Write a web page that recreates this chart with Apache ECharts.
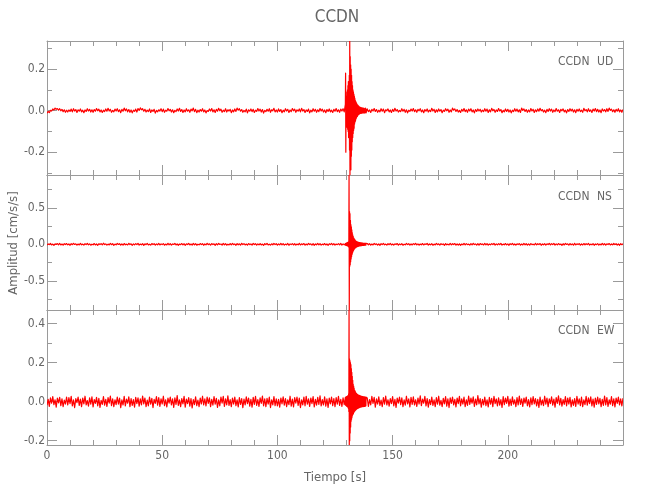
<!DOCTYPE html>
<html><head><meta charset="utf-8">
<script src="https://cdn.jsdelivr.net/npm/echarts@6/dist/echarts.min.js"></script>
<style>html,body{margin:0;padding:0;background:#fff}#c{width:650px;height:500px}</style>
</head><body><div id="c"></div>
<script>
// ---------------- data ----------------
const stationName = 'CCDN';
const components = ['UD', 'NS', 'EW'];
const xTitle = 'Tiempo [s]';
const yTitle = 'Amplitud [cm/s/s]';

// sampling of the three pieces of each trace (seconds)
const preStart = 0, preStep = 0.5;
const evStart = 129.5, evStep = 0.1;
const postStart = 139, postStep = 0.5;

const udPre = [
-.013,-.004,-.010,.001,-.002,.008,.003,.012,.006,.010,.002,.009,-.001,.006,-.005,.004,-.008,.002,-.007,.003,
-.004,.007,-.006,.009,-.002,.005,-.009,.004,-.003,.008,-.006,.002,-.010,.003,-.004,.009,-.002,.006,-.007,.004,
-.008,.005,-.003,.010,-.001,.007,-.006,.003,-.009,.002,-.005,.008,-.003,.011,-.002,.006,-.008,.001,-.006,.007,
-.002,.009,-.005,.004,-.010,.006,-.003,.012,-.001,.008,-.006,.005,-.008,.003,-.011,.002,-.004,.007,-.007,.010,
.001,.013,.004,.009,-.003,.006,-.007,.002,-.005,.008,-.009,.003,-.004,.006,-.012,.001,-.006,.004,-.002,.009,
-.005,.007,-.008,.002,-.003,.010,-.001,.006,-.007,.004,-.010,.001,-.005,.008,-.002,.011,-.004,.005,-.009,.003,
-.006,.009,-.003,.004,-.008,.007,-.001,.012,-.005,.006,-.010,.002,-.007,.005,-.003,.009,-.006,.003,-.011,.000,
-.004,.008,-.002,.010,-.006,.004,-.009,.006,-.003,.011,-.001,.007,-.008,.002,-.005,.009,-.007,.004,-.002,.006,
-.010,.003,-.006,.008,-.004,.012,.002,.009,-.003,.005,-.008,.001,-.006,.007,-.011,.004,-.003,.008,-.005,.006,
-.009,.002,-.004,.010,-.002,.007,-.007,.005,-.012,.001,-.005,.006,-.003,.009,-.008,.004,-.001,.011,-.006,.003,
-.007,.008,-.004,.005,-.010,.002,-.006,.009,-.002,.006,-.009,.003,-.005,.010,-.001,.007,-.008,.004,-.003,.008,
-.006,.011,-.002,.005,-.009,.003,-.004,.007,-.011,.002,-.006,.009,-.003,.006,-.008,.004,-.005,.010,-.002,.007,
-.007,.003,-.010,.005,-.004,.008,-.006,.002,-.009,.006,-.003,.010,-.005,.004,-.008,.007,-.002,.009,-.006
];
const udEvent = [
.03,.18,-.20,.05,-.06,
.07,-.08,.09,-.07,.10,-.09,.12,-.10,.14,-.13,
.11,-.13,.17,-.19,.335,-.31,.26,-.27,.22,-.285,
.20,-.22,.17,-.19,.14,-.15,.12,-.13,.10,-.11,
.09,-.095,.08,-.085,.07,-.065,.06,-.055,.05,-.05,
.045,-.04,.04,-.035,.035,-.03,.03,-.028,.026,-.024,
.025,-.02,.022,-.018,.02,-.017,.018,-.015,.017,-.014,
.016,-.013,.015,-.012,.014,-.013,.012,-.011,.013,-.01,
.012,-.012,.011,-.009,.012,-.011,.010,-.012,.009,-.010,
.011,-.008,.012,-.010,.009,-.011
];
const udPost = [
.008,-.005,.003,-.009,.006,-.002,.010,-.004,.005,-.008,.002,-.006,.009,-.003,.007,-.010,.004,-.001,.008,-.006,
.003,-.009,.006,-.004,.011,-.002,.005,-.007,.001,-.005,.009,-.003,.006,-.008,.004,-.011,.002,-.004,.007,-.002,
.010,-.005,.004,-.008,.006,-.001,.009,-.006,.003,-.010,.005,-.003,.008,-.007,.002,-.005,.011,-.002,.006,-.009,
.004,-.006,.008,-.003,.005,-.010,.002,-.004,.009,-.001,.007,-.008,.003,-.006,.012,.002,.008,-.004,.005,-.007,
.001,-.009,.006,-.003,.010,-.005,.004,-.008,.007,-.002,.009,-.006,.003,-.011,.005,-.004,.008,-.002,.006,-.007,
.002,-.005,.009,-.003,.007,-.009,.004,-.006,.011,-.001,.006,-.008,.003,-.004,.010,-.002,.005,-.010,.001,-.006,
.008,-.004,.006,-.007,.003,-.011,.002,-.005,.009,-.003,.007,-.006,.004,-.009,.012,.001,.008,-.004,.005,-.008,
.003,-.006,.010,-.002,.006,-.009,.004,-.005,.008,-.003,.011,-.001,.005,-.007,.002,-.010,.006,-.004,.009,-.002,
.007,-.008,.003,-.005,.010,-.003,.004,-.009,.006,-.001,.008,-.006,.002,-.011,.005,-.004,.009,-.002,.007,-.007,
.004,-.010,.006,-.003,.008,-.005,.002,-.008,.011,-.001,.005,-.006,.009,-.004,.003,-.009,.007,-.002,.010,-.005,
.006,-.007,.003,-.010,.008,-.002,.005,-.006,.009,-.004,.012,.001,.007,-.005,.004,-.008,.006,-.003,.009,-.006,
.003,-.008,.005
];

const nsPre = [
-.010,.006,-.004,.012,-.008,.003,-.014,.007,-.002,.010,-.006,.013,-.009,.004,-.012,.008,-.003,.011,-.007,.005,
-.013,.009,-.005,.014,-.002,.007,-.011,.004,-.008,.012,-.006,.003,-.010,.009,-.004,.013,-.007,.006,-.012,.002,
-.006,.011,-.009,.005,-.013,.008,-.003,.010,-.007,.015,-.004,.006,-.011,.003,-.008,.012,-.005,.009,-.014,.004,
-.007,.013,-.002,.008,-.010,.005,-.012,.011,-.006,.003,-.009,.014,-.004,.007,-.013,.006,-.008,.010,-.003,.012,
-.011,.004,-.006,.009,-.015,.007,-.005,.012,-.008,.002,-.010,.011,-.003,.008,-.012,.005,-.007,.013,-.009,.006,
-.004,.010,-.012,.003,-.008,.014,-.006,.009,-.011,.005,-.002,.012,-.009,.007,-.013,.004,-.005,.011,-.007,.008,
-.014,.006,-.003,.012,-.009,.004,-.010,.013,-.006,.008,-.012,.002,-.007,.011,-.004,.009,-.013,.005,-.008,.014,
-.005,.007,-.011,.010,-.003,.006,-.014,.009,-.007,.012,-.002,.004,-.010,.013,-.006,.008,-.012,.003,-.009,.011,
-.008,.012,-.004,.005,-.013,.010,-.006,.007,-.011,.014,-.003,.009,-.008,.004,-.012,.011,-.005,.006,-.010,.013,
-.003,.008,-.012,.006,-.007,.011,-.009,.004,-.014,.010,-.005,.013,-.008,.002,-.011,.007,-.006,.012,-.004,.009,
-.012,.005,-.008,.013,-.006,.009,-.010,.003,-.007,.012,-.013,.006,-.004,.010,-.009,.008,-.011,.004,-.006,.014,
-.009,.007,-.005,.011,-.012,.004,-.008,.013,-.003,.006,-.010,.009,-.014,.005,-.006,.012,-.007,.010,-.011,.003,
-.006,.011,-.009,.005,-.013,.008,-.004,.012,-.007,.009,-.011,.004,-.005,.010,-.008,.013,-.010,.006,-.007
];
const nsEvent = [
.010,-.012,.015,-.014,.018,
-.016,.020,-.018,.022,-.020,.025,-.024,.030,-.028,.035,
-.04,.95,-.90,.45,-.30,.42,-.28,.33,-.24,.27,
-.20,.24,-.17,.20,-.14,.16,-.12,.13,-.10,.11,
-.085,.09,-.075,.08,-.065,.07,-.055,.06,-.05,.052,
-.045,.045,-.04,.04,-.035,.036,-.032,.033,-.03,.03,
-.028,.028,-.026,.026,-.024,.025,-.022,.023,-.021,.022,
-.02,.021,-.019,.02,-.018,.019,-.017,.018,-.016,.017,
-.016,.016,-.015,.015,-.014,.015,-.013,.014,-.013,.014,
-.012,.013,-.012,.012,-.011,.012
];
const nsPost = [
.011,-.006,.008,-.012,.004,-.009,.013,-.003,.007,-.010,.005,-.014,.009,-.004,.012,-.007,.003,-.011,.008,-.005,
.013,-.008,.004,-.010,.007,-.003,.011,-.012,.006,-.005,.009,-.013,.002,-.007,.012,-.004,.008,-.011,.005,-.009,
.010,-.003,.014,-.008,.006,-.012,.004,-.006,.011,-.009,.007,-.002,.013,-.010,.005,-.007,.009,-.013,.003,-.008,
.012,-.005,.007,-.011,.009,-.004,.006,-.014,.010,-.006,.003,-.009,.012,-.007,.008,-.003,.011,-.012,.005,-.010,
.007,-.013,.004,-.006,.012,-.008,.010,-.005,.003,-.011,.009,-.007,.014,-.004,.006,-.010,.008,-.012,.011,-.003,
.005,-.009,.013,-.006,.008,-.012,.004,-.007,.010,-.003,.012,-.011,.006,-.008,.009,-.005,.013,-.010,.003,-.006,
.011,-.007,.006,-.013,.009,-.004,.012,-.009,.005,-.011,.007,-.003,.010,-.012,.004,-.008,.013,-.006,.008,-.010,
.006,-.012,.010,-.005,.003,-.009,.014,-.007,.008,-.004,.011,-.013,.005,-.006,.009,-.011,.007,-.003,.012,-.008,
.009,-.004,.012,-.010,.006,-.007,.011,-.005,.004,-.013,.008,-.009,.013,-.002,.007,-.011,.010,-.006,.005,-.012,
.013,-.008,.007,-.003,.010,-.012,.005,-.009,.011,-.006,.008,-.004,.012,-.010,.003,-.007,.009,-.013,.006,-.005,
.010,-.011,.004,-.008,.013,-.006,.009,-.012,.007,-.003,.011,-.009,.005,-.007,.012,-.004,.008,-.010,.006,-.013,
.009,-.005,.007
];

const ewPre = [
-.018,.012,-.024,.020,-.008,.026,-.015,.010,-.028,.018,-.006,.022,-.020,.014,-.026,.008,-.012,.024,-.017,.021,
-.010,.027,-.022,.009,-.030,.016,-.005,.023,-.019,.013,-.025,.019,-.011,.028,-.016,.006,-.023,.020,-.013,.025,
-.027,.011,-.009,.022,-.021,.017,-.029,.007,-.014,.026,-.018,.012,-.024,.021,-.007,.029,-.020,.015,-.026,.010,
-.015,.024,-.012,.018,-.031,.009,-.017,.027,-.022,.013,-.008,.025,-.025,.016,-.019,.011,-.028,.022,-.010,.020,
-.023,.014,-.016,.029,-.011,.019,-.026,.008,-.021,.023,-.013,.017,-.030,.012,-.009,.026,-.018,.021,-.024,.015,
-.012,.028,-.020,.010,-.027,.018,-.007,.024,-.016,.014,-.029,.020,-.014,.031,-.019,.009,-.025,.016,-.011,.027,
-.028,.013,-.010,.021,-.023,.016,-.032,.011,-.015,.025,-.020,.008,-.026,.019,-.012,.028,-.017,.014,-.022,.024,
-.009,.020,-.025,.012,-.018,.026,-.013,.017,-.029,.010,-.021,.023,-.008,.027,-.024,.015,-.016,.030,-.019,.011,
-.026,.018,-.012,.024,-.020,.009,-.027,.021,-.014,.016,-.031,.013,-.017,.025,-.010,.019,-.023,.012,-.028,.022,
-.014,.027,-.019,.011,-.024,.020,-.009,.029,-.021,.014,-.026,.017,-.012,.023,-.030,.010,-.016,.026,-.020,.015,
-.022,.012,-.028,.019,-.011,.025,-.018,.016,-.025,.009,-.015,.028,-.023,.013,-.027,.021,-.008,.024,-.019,.018,
-.030,.010,-.016,.023,-.021,.027,-.013,.015,-.024,.019,-.010,.026,-.027,.012,-.018,.022,-.014,.030,-.022,.011,
-.017,.025,-.023,.014,-.029,.018,-.011,.024,-.020,.016,-.026,.021,-.013,.027,-.019,.012,-.024,.020,-.015
];
const ewEvent = [
.022,-.018,.024,-.020,.026,
-.022,.025,-.024,.027,-.026,.030,-.028,.032,-.034,.04,
-.05,.47,-.222,.22,-.20,.21,-.16,.20,-.13,.19,
-.10,.17,-.09,.15,-.08,.13,-.07,.11,-.065,.09,
-.06,.08,-.055,.07,-.05,.06,-.048,.055,-.045,.05,
-.042,.045,-.04,.042,-.038,.04,-.036,.038,-.035,.036,
-.034,.034,-.032,.033,-.031,.032,-.030,.031,-.029,.030,
-.028,.029,-.028,.028,-.027,.028,-.026,.027,-.026,.026,
-.025,.026,-.024,.025,-.025,.024,-.023,.025,-.024,.023,
-.022,.024,-.023,.022,-.021,.023
];
const ewPost = [
.019,-.024,.011,-.016,.027,-.009,.022,-.028,.014,-.012,.025,-.019,.008,-.026,.021,-.013,.029,-.017,.010,-.023,
.016,-.010,.026,-.021,.012,-.029,.018,-.007,.024,-.015,.020,-.025,.009,-.018,.028,-.011,.015,-.027,.022,-.014,
.025,-.017,.010,-.024,.019,-.012,.030,-.020,.013,-.008,.027,-.022,.016,-.028,.011,-.015,.023,-.019,.009,-.026,
.021,-.013,.028,-.018,.007,-.025,.017,-.011,.026,-.023,.014,-.030,.020,-.009,.024,-.016,.012,-.027,.019,-.010,
.027,-.021,.015,-.012,.023,-.026,.010,-.019,.029,-.014,.018,-.008,.025,-.024,.013,-.017,.031,-.011,.016,-.028,
.012,-.016,.024,-.020,.009,-.027,.022,-.013,.017,-.025,.028,-.010,.014,-.022,.020,-.018,.011,-.029,.026,-.015,
.018,-.009,.027,-.023,.013,-.019,.025,-.012,.010,-.026,.021,-.016,.029,-.014,.015,-.024,.019,-.008,.023,-.021,
.011,-.027,.020,-.015,.026,-.011,.016,-.022,.012,-.029,.024,-.017,.009,-.020,.028,-.013,.018,-.025,.014,-.010,
.025,-.018,.013,-.028,.021,-.009,.030,-.016,.017,-.023,.011,-.014,.026,-.021,.019,-.012,.022,-.027,.010,-.019,
.016,-.024,.028,-.012,.014,-.020,.023,-.026,.009,-.015,.027,-.018,.020,-.010,.025,-.022,.013,-.028,.018,-.014,
.023,-.011,.017,-.025,.012,-.019,.029,-.016,.021,-.024,.010,-.013,.026,-.020,.015,-.027,.019,-.009,.024,-.017,
.014,-.022,.018
];

// axis ranges and ticks
const xRange = [0, 250];
const xMajor = [0, 50, 100, 150, 200];
const xMinor = [10, 20, 30, 40, 60, 70, 80, 90, 110, 120, 130, 140, 160, 170, 180, 190, 210, 220, 230, 240];
const yRanges = [[-0.31, 0.335], [-0.9, 0.95], [-0.222, 0.47]];
const yMajor = [[-0.2, 0, 0.2], [-0.5, 0, 0.5], [-0.2, 0, 0.2, 0.4]];
const yMinor = [[-0.3, -0.1, 0.1, 0.3], [-0.75, -0.25, 0.25, 0.75], [-0.1, 0.1, 0.3]];

// ---------------- chart ----------------
const FONT = "'Liberation Sans Narrow','DejaVu Sans Condensed','Roboto Condensed','Liberation Sans',sans-serif";
const TXT = '#666';
const AX = '#9a9a9a';
const grids = [
  { left: 47, width: 576, top: 41, height: 134 },
  { left: 47, width: 576, top: 175, height: 135 },
  { left: 47, width: 576, top: 310, height: 135 }
];

function buildTrace(pre, ev, post) {
  const d = [];
  pre.forEach((v, i) => d.push([preStart + i * preStep, v]));
  ev.forEach((v, i) => d.push([+(evStart + i * evStep).toFixed(2), v]));
  post.forEach((v, i) => d.push([postStart + i * postStep, v]));
  return d;
}
const traces = [
  buildTrace(udPre, udEvent, udPost),
  buildTrace(nsPre, nsEvent, nsPost),
  buildTrace(ewPre, ewEvent, ewPost)
];

const xAxes = [], yAxes = [], series = [];
grids.forEach((g, i) => {
  ['bottom', 'top'].forEach(pos => {
    [[xMajor, 10, true], [xMinor, 5, false]].forEach(([vals, len, major]) => {
      const showLab = major && pos === 'bottom' && i === 2;
      xAxes.push({
        type: 'value', gridIndex: i, position: pos, min: xRange[0], max: xRange[1],
        axisLine: { show: major, onZero: false, lineStyle: { color: AX, width: 1 } },
        axisTick: { show: true, inside: true, length: len, customValues: vals, lineStyle: { color: AX } },
        axisLabel: { show: showLab, customValues: xMajor, color: TXT, fontFamily: FONT, fontSize: 12, margin: 5, formatter: v => String(v) },
        splitLine: { show: false },
        name: showLab ? xTitle : '', nameLocation: 'middle', nameGap: 26,
        nameTextStyle: { color: TXT, fontFamily: FONT, fontSize: 13 }
      });
    });
  });
  ['left', 'right'].forEach(pos => {
    [[yMajor[i], 10, true], [yMinor[i], 5, false]].forEach(([vals, len, major]) => {
      const showLab = major && pos === 'left';
      yAxes.push({
        type: 'value', gridIndex: i, position: pos, min: yRanges[i][0], max: yRanges[i][1],
        axisLine: { show: major, onZero: false, lineStyle: { color: AX, width: 1 } },
        axisTick: { show: true, inside: true, length: len, customValues: vals, lineStyle: { color: AX } },
        axisLabel: { show: showLab, customValues: yMajor[i], color: TXT, fontFamily: FONT, fontSize: 12, margin: 2, formatter: v => v.toFixed(1) },
        splitLine: { show: false }
      });
    });
  });
  // every sample is drawn (custom polyline keeps all tiny zig-zags)
  series.push({
    type: 'custom', xAxisIndex: i * 4, yAxisIndex: i * 4, data: traces[i],
    encode: { x: 0, y: 1 }, silent: true, clip: true,
    renderItem: function (params, api) {
      if (params.dataIndex !== 0) return null;
      const pts = traces[i].map(p => api.coord(p));
      return {
        type: 'polyline', silent: true,
        shape: { points: pts },
        style: { stroke: '#ff0000', lineWidth: 1.2, fill: null, lineJoin: 'round' }
      };
    }
  });
});

const graphics = [
  { type: 'text', x: 337, y: 18, style: { text: stationName, align: 'center', verticalAlign: 'middle', fill: TXT, font: '17px ' + FONT } },
  { type: 'text', rotation: Math.PI / 2, x: 14, y: 243, style: { text: yTitle, align: 'center', verticalAlign: 'middle', fill: TXT, font: '13px ' + FONT } }
];
const labelY = [62, 197, 331];
components.forEach((c, i) => {
  graphics.push({ type: 'text', x: 558, y: labelY[i], style: { text: stationName, align: 'left', verticalAlign: 'middle', fill: TXT, font: '12px ' + FONT } });
  graphics.push({ type: 'text', x: 597, y: labelY[i], style: { text: c, align: 'left', verticalAlign: 'middle', fill: TXT, font: '12px ' + FONT } });
});

const chart = echarts.init(document.getElementById('c'), null, { renderer: 'canvas' });
chart.setOption({
  animation: false,
  backgroundColor: '#fff',
  grid: grids,
  xAxis: xAxes,
  yAxis: yAxes,
  series: series,
  graphic: graphics
});
</script>
</body></html>
